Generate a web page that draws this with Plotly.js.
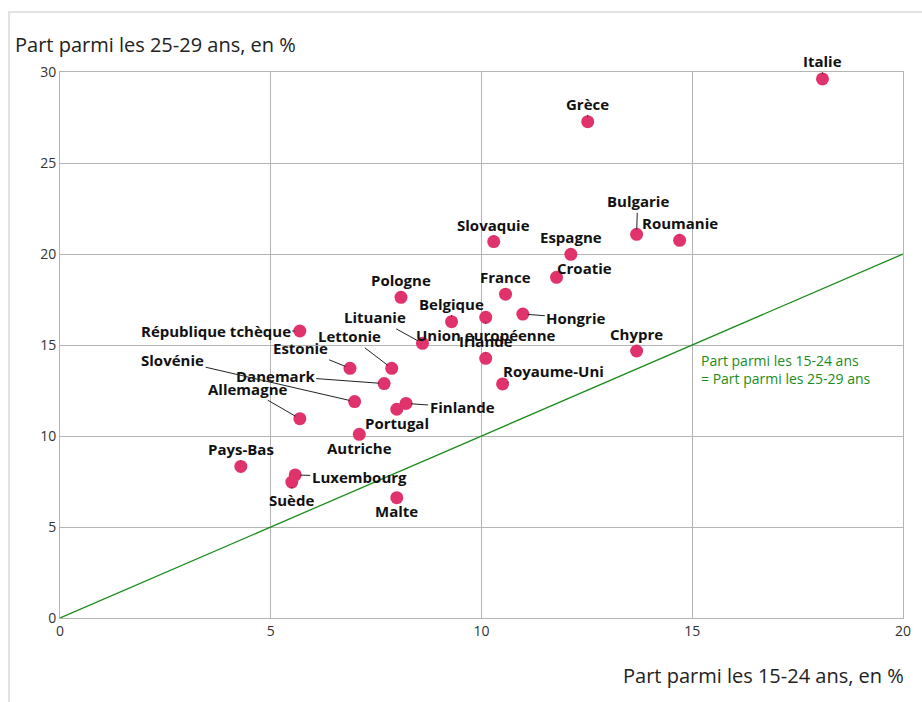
<!DOCTYPE html>
<html>
<head>
<meta charset="utf-8">
<script src="https://cdn.plot.ly/plotly-3.0.1.min.js"></script>
<style>html,body{margin:0;padding:0;background:#fff;}#chart{width:922px;height:702px;}</style>
</head>
<body>
<div id="chart"></div>
<script>
const countries = ["Italie","Grèce","Slovaquie","Espagne","Bulgarie","Roumanie","Croatie","France","Belgique","Union européenne","Irlande","Hongrie","Chypre","Royaume-Uni","Pologne","République tchèque","Lituanie","Estonie","Lettonie","Danemark","Slovénie","Allemagne","Finlande","Portugal","Autriche","Pays-Bas","Luxembourg","Suède","Malte"];
const share15_24 = [18.09,12.52,10.29,12.12,13.68,14.70,11.78,10.57,9.29,10.10,10.10,10.98,13.68,10.50,8.09,5.69,8.60,6.88,7.87,7.69,6.99,5.69,8.21,7.99,7.10,4.29,5.58,5.50,7.99];
const share25_29 = [29.62,27.27,20.68,19.98,21.08,20.75,18.72,17.79,16.28,16.52,14.27,16.70,14.67,12.86,17.62,15.77,15.09,13.72,13.72,12.88,11.89,10.95,11.79,11.47,10.09,8.33,7.86,7.47,6.61];
const diagX = [0,20];
const diagY = [0,20];
const xTicks = [0,5,10,15,20];
const yTicks = [0,5,10,15,20,25,30];

// label offsets (pixels) from each point, layout only
const labelOffsets = {
  "Italie":[0,-18],"Grèce":[0,-18],"Slovaquie":[0,-17],"Espagne":[0,-17],"Bulgarie":[1,-33],
  "Roumanie":[0,-17],"Croatie":[28,-9],"France":[0,-17],"Belgique":[0,-18],"Union européenne":[0,18],
  "Irlande":[0,-17],"Hongrie":[53,4],"Chypre":[0,-17],"Royaume-Uni":[51,-13],"Pologne":[0,-17],
  "République tchèque":[-84,0],"Lituanie":[-47,-26],"Estonie":[-49,-20],"Lettonie":[-42,-32],
  "Danemark":[-109,-8],"Slovénie":[-182,-42],"Allemagne":[-52,-30],"Finlande":[56,4],
  "Portugal":[0,14],"Autriche":[0,14],"Pays-Bas":[0,-17],"Luxembourg":[64,2],"Suède":[0,18],"Malte":[0,13]
};

const FONT = "'Open Sans', 'Noto Sans', sans-serif";

const traces = [
  {x: diagX, y: diagY, type:'scatter', mode:'lines', line:{color:'#1a8c1a', width:1.3}, hoverinfo:'skip', showlegend:false},
  {x: share15_24, y: share25_29, text: countries, type:'scatter', mode:'markers',
   marker:{color:'#e0336c', size:13}, hoverinfo:'text', showlegend:false}
];

const annotations = countries.map((c,i)=>({
  x: share15_24[i], y: share25_29[i], xref:'x', yref:'y', text: c,
  showarrow:true, ax: labelOffsets[c][0], ay: labelOffsets[c][1],
  arrowhead:0, arrowwidth:1, arrowcolor:'#222', standoff:5,
  font:{family:FONT, size:15, color:'#111', weight:'bold'}
}));

annotations.push({
  x: 15.15, y: 14.8, xref:'x', yref:'y', xanchor:'left', yanchor:'top', align:'left',
  text:'Part parmi les 15-24 ans<br>= Part parmi les 25-29 ans', showarrow:false,
  font:{family:FONT, size:14, color:'#1a8c1a'}
});
annotations.push({
  x: -0.056, y: 1.05, xref:'paper', yref:'paper', xanchor:'left', yanchor:'middle',
  text:'Part parmi les 25-29 ans, en %', showarrow:false,
  font:{family:FONT, size:20, color:'#222'}
});
annotations.push({
  x: 1.004, y: -0.106, xref:'paper', yref:'paper', xanchor:'right', yanchor:'middle',
  text:'Part parmi les 15-24 ans, en %', showarrow:false,
  font:{family:FONT, size:20, color:'#222'}
});

const layout = {
  width:922, height:702,
  margin:{l:60, r:19, t:72, b:84},
  paper_bgcolor:'#fff', plot_bgcolor:'#fff',
  font:{family:FONT, size:14, color:'#333'},
  xaxis:{range:[0,20], tickvals:xTicks, showgrid:true, gridcolor:'#b4b4b4', gridwidth:1,
         zeroline:false, showline:true, linecolor:'#b4b4b4', mirror:true, ticks:'', fixedrange:true,
         tickfont:{family:FONT, size:14, color:'#333'}},
  yaxis:{range:[0,30], tickvals:yTicks, showgrid:true, gridcolor:'#b4b4b4', gridwidth:1,
         zeroline:false, showline:true, linecolor:'#b4b4b4', mirror:true, ticks:'', fixedrange:true,
         tickfont:{family:FONT, size:14, color:'#333'}},
  shapes:[{type:'rect', xref:'paper', yref:'paper', x0:-0.0605, x1:1.05, y0:-0.2, y1:1.11,
           line:{color:'#e2e2e2', width:2}, fillcolor:'rgba(0,0,0,0)', layer:'below'}],
  annotations: annotations
};

Plotly.newPlot('chart', traces, layout, {displayModeBar:false, staticPlot:true});
</script>
</body>
</html>
